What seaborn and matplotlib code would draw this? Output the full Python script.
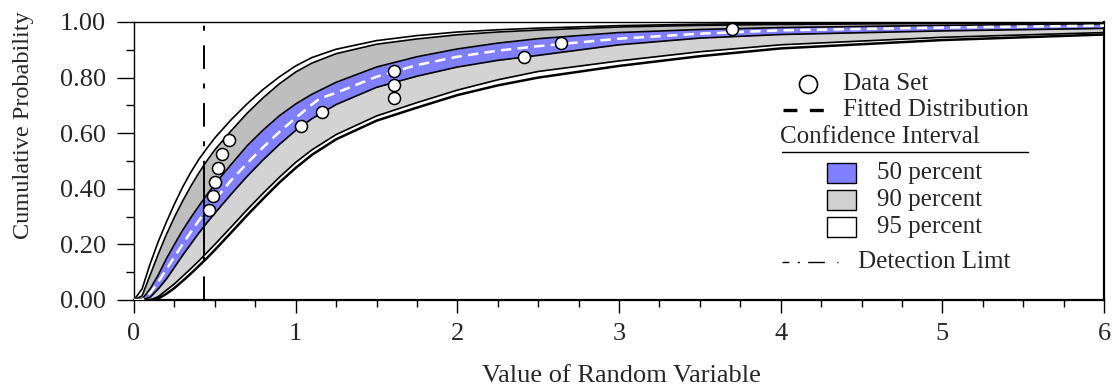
import numpy as np
import pandas as pd
import seaborn as sns
import matplotlib.pyplot as plt
import matplotlib.patches as mpatches
from matplotlib.ticker import MultipleLocator, FormatStrFormatter

# Confidence bands
x_grid = [0, 0.05, 0.1, 0.15, 0.2, 0.25, 0.3, 0.35, 0.4, 0.45, 0.5, 0.6, 0.7, 0.8, 0.9,
          1.0, 1.1, 1.25, 1.5, 1.75, 2.0, 2.25, 2.5, 3.0, 3.5, 4.0, 5.0, 6.0]
upper95 = [0, 0.04, 0.13, 0.21, 0.28, 0.345, 0.405, 0.458, 0.505, 0.545, 0.583, 0.648,
           0.706, 0.758, 0.803, 0.842, 0.872, 0.902, 0.933, 0.951, 0.964, 0.972, 0.978,
           0.987, 0.992, 0.995, 0.998, 0.999]
upper90 = [0, 0.015, 0.09, 0.165, 0.235, 0.298, 0.355, 0.408, 0.456, 0.5, 0.54, 0.608,
           0.672, 0.728, 0.778, 0.82, 0.852, 0.886, 0.92, 0.939, 0.954, 0.964, 0.971,
           0.982, 0.988, 0.991, 0.995, 0.997]
upper50 = [0, 0.003, 0.04, 0.09, 0.148, 0.2, 0.25, 0.295, 0.337, 0.378, 0.417, 0.487,
           0.555, 0.612, 0.663, 0.705, 0.74, 0.783, 0.838, 0.875, 0.903, 0.924, 0.94,
           0.962, 0.973, 0.98, 0.988, 0.993]
lower50 = [0, 0.0, 0.01, 0.04, 0.075, 0.117, 0.16, 0.2, 0.24, 0.277, 0.312, 0.38,
           0.445, 0.505, 0.56, 0.61, 0.652, 0.703, 0.765, 0.805, 0.838, 0.862, 0.88,
           0.918, 0.942, 0.955, 0.968, 0.977]
lower90 = [0, 0, 0, 0.012, 0.035, 0.058, 0.085, 0.112, 0.14, 0.17, 0.2, 0.262,
           0.325, 0.385, 0.442, 0.495, 0.54, 0.595, 0.662, 0.71, 0.755, 0.792, 0.822,
           0.86, 0.893, 0.918, 0.945, 0.962]
lower95 = [0, 0, 0, 0.005, 0.022, 0.043, 0.068, 0.094, 0.122, 0.15, 0.18, 0.242,
           0.305, 0.365, 0.423, 0.475, 0.522, 0.578, 0.645, 0.692, 0.737, 0.772, 0.80,
           0.842, 0.877, 0.905, 0.935, 0.955]

# Fitted distribution
fit_x = [0, 0.05, 0.1, 0.15, 0.2, 0.25, 0.3, 0.35, 0.4, 0.45, 0.5, 0.6, 0.7, 0.8, 0.9,
         1.0, 1.1, 1.15, 1.25, 1.5, 1.75, 2.0, 2.25, 2.5, 3.0, 3.5, 4.0, 5.0, 6.0]
fit_y = [0, 0.0, 0.025, 0.065, 0.11, 0.155, 0.2, 0.243, 0.285, 0.323, 0.36, 0.43, 0.492,
         0.55, 0.605, 0.655, 0.703, 0.725, 0.745, 0.803, 0.845, 0.875, 0.897, 0.913,
         0.94, 0.958, 0.97, 0.98, 0.987]

# Data set (values above the detection limit)
data_x = [0.464, 0.49, 0.50, 0.52, 0.545, 0.59, 1.03, 1.16, 1.61, 1.61, 1.61, 2.41, 2.64, 3.70]
data_y = [0.325, 0.375, 0.425, 0.475, 0.525, 0.575, 0.625, 0.675, 0.725, 0.775, 0.825,
          0.875, 0.925, 0.975]
detection_limit = 0.435

bands = pd.DataFrame({'x': x_grid, 'u95': upper95, 'u90': upper90, 'u50': upper50,
                      'l50': lower50, 'l90': lower90, 'l95': lower95})

sns.set_style("ticks")
plt.rcParams['font.family'] = ['Liberation Serif', 'DejaVu Serif']
plt.rcParams['lines.scale_dashes'] = False

fig = plt.figure(figsize=(11.12, 3.89), dpi=100)
ax = fig.add_axes([134 / 1112, 1 - 300 / 389, 970 / 1112, 278 / 389])

# band fills
ax.fill_between(bands['x'], bands['u50'], bands['u90'], color='#bebebe', lw=0)
ax.fill_between(bands['x'], bands['l90'], bands['l50'], color='#d3d3d3', lw=0)
ax.fill_between(bands['x'], bands['l50'], bands['u50'], color='#8080ff', lw=0)

# band outlines
for col in ['u95', 'u90', 'u50', 'l50', 'l90']:
    sns.lineplot(data=bands, x='x', y=col, ax=ax, color='black', lw=1.2)
sns.lineplot(data=bands, x='x', y='l95', ax=ax, color='black', lw=1.8)

# detection limit
ax.axvline(detection_limit, color='black', lw=1.4, dashes=(17, 10.5, 3.6, 10.5))
ax.vlines(detection_limit, np.interp(detection_limit, x_grid, lower90),
          np.interp(detection_limit, x_grid, upper90), color='black', lw=1.4)

# fitted distribution
ax.plot(fit_x, fit_y, color='white', lw=1.8, dashes=(7.5, 4.5), zorder=4)

# data set
sns.scatterplot(x=data_x, y=data_y, ax=ax, s=75, color='white', edgecolor='black',
                linewidth=1.1, zorder=5)

ax.set_xlim(0, 6)
ax.set_ylim(0, 1)
ax.xaxis.set_major_locator(MultipleLocator(1))
ax.xaxis.set_minor_locator(MultipleLocator(0.25))
ax.yaxis.set_major_locator(MultipleLocator(0.2))
ax.yaxis.set_minor_locator(MultipleLocator(0.1))
ax.yaxis.set_major_formatter(FormatStrFormatter('%.2f'))
ax.tick_params(axis='y', which='major', length=12, width=1, pad=8, labelsize=19,
               direction='out', color='black')
ax.tick_params(axis='y', which='minor', length=6, width=1, direction='out', color='black')
ax.tick_params(axis='x', which='major', length=9.5, width=1, pad=7, labelsize=19,
               direction='out', color='black')
ax.tick_params(axis='x', which='minor', length=5, width=1, direction='out', color='black')
for side in ['top', 'left']:
    ax.spines[side].set_linewidth(1.0)
for side in ['bottom', 'right']:
    ax.spines[side].set_linewidth(1.6)
for sp in ax.spines.values():
    sp.set_color('black')

ax.set_xlabel('Value of Random Variable', fontsize=19)
ax.set_ylabel('Cumulative Probability', fontsize=17.5)
ax.xaxis.set_label_coords(0.502, -0.235)
ax.yaxis.set_label_coords(-0.103, 0.629)


# legend, laid out in pixel positions of the reference
def pos(px, py):
    return (px - 134) / 970, (300 - py) / 278


tr = ax.transAxes
fs = 18
x, y = pos(808, 84)
ax.plot([x], [y], 'o', ms=13, mfc='white', mec='black', mew=1.2, transform=tr, clip_on=False)
ax.text(*pos(843, 84), 'Data Set', transform=tr, fontsize=fs, va='center')
x0, y0 = pos(783, 110)
x1, _ = pos(826, 110)
ax.plot([x0, x1], [y0, y0], color='black', lw=2.4, dashes=(10, 9), transform=tr)
ax.text(*pos(843, 110), 'Fitted Distribution', transform=tr, fontsize=fs, va='center')
ax.text(*pos(780, 137), 'Confidence Interval', transform=tr, fontsize=fs, va='center')
x0, y0 = pos(782, 152)
x1, _ = pos(1028, 152)
ax.plot([x0, x1], [y0, y0], color='black', lw=1.0, transform=tr)

ci_labels = ['50 percent', '90 percent', '95 percent']
ci_colors = ['#8080ff', '#d0d0d0', 'white']
for i, (lab, col) in enumerate(zip(ci_labels, ci_colors)):
    top = 163 + 27 * i
    bx, by = pos(827, top + 20)
    bw = 29 / 970
    bh = 20 / 278
    ax.add_patch(mpatches.Rectangle((bx, by), bw, bh, transform=tr, facecolor=col,
                                    edgecolor='black', lw=1.0))
    ax.text(*pos(877, top + 10), lab, transform=tr, fontsize=fs, va='center')

x0, y0 = pos(782, 262)
x1, _ = pos(838, 262)
ax.plot([x0, x1], [y0, y0], color='black', lw=1.0, dashes=(5, 6, 1.5, 6, 12, 9, 1.5, 20),
        transform=tr)
ax.text(*pos(858, 262), 'Detection Limt', transform=tr, fontsize=fs, va='center')

fig.savefig('out.png', dpi=100)
